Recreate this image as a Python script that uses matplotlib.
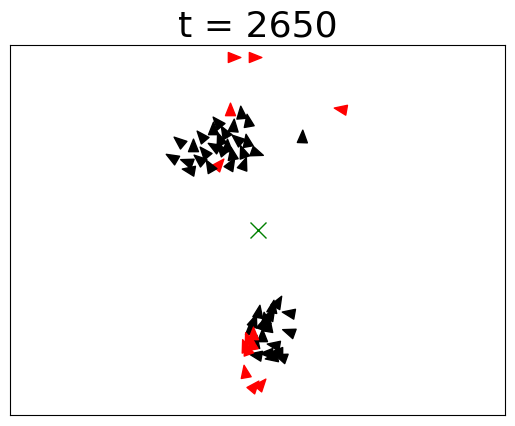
import numpy as np
import matplotlib
matplotlib.use('Agg')
import matplotlib.pyplot as plt
from matplotlib.markers import MarkerStyle
from matplotlib.path import Path
from matplotlib.transforms import Affine2D

# boid positions (x, y), heading in degrees (0 = moving right) and type
xs = [-10.3, -1.8, 34.3, -11.1, -16.0, 18.0,
      -6.7, -3.8, -16.0, -9.9, -22.4, -31.3, -26.1, -34.1, -28.1, -27.3,
      -21.2, -19.2, -15.2, -12.3, -10.3, -5.9, -1.0, -5.9, -11.1, -17.2,
      -13.1, -7.9, -4.2, -18.0, -14.3, -23.2,
      7.9, 5.9, 0.2, 13.1, -1.8, 3.0, 4.2, -3.0, 13.1, 1.8, -1.0, 7.1,
      8.3, 4.2, -0.2, 6.3, 9.9, 1.8, 5.1,
      -3.8, -5.1, -2.2, -1.8, -4.2, -5.1, -1.8, 1.0]
ys = [70.1, 70.1, 49.0, 48.2, 26.3, 37.3,
      47.0, 43.7, 43.3, 41.7, 37.7, 35.6, 33.6, 29.2, 27.5, 24.3,
      31.2, 25.5, 36.5, 33.6, 30.4, 31.2, 31.6, 26.3, 26.3, 33.6,
      39.3, 36.5, 35.6, 40.5, 32.4, 28.4,
      -29.6, -31.6, -33.6, -33.6, -37.3, -36.5, -39.3, -40.5, -41.3, -43.3,
      -45.8, -46.6, -49.4, -49.8, -50.6, -51.4, -51.4, -38.5, -34.4,
      -44.6, -47.4, -46.6, -42.5, -48.6, -57.9, -63.6, -62.8]
headings = [0, 0, 170, 90, 50, 88,
            95, 100, 130, 85, 130, 140, 90, 150, 160, 170,
            130, 120, 110, 90, 100, 110, -20, 70, 60, 150,
            120, 140, 100, 90, 130, 140,
            60, 80, 80, 170, 70, 100, 80, 90, 160, 90,
            80, 170, 180, 180, 170, 190, 160, 70, 60,
            110, 110, 100, 90, 110, 100, 50, 50]
kinds = (['red'] * 5 + ['black'] * 46 + ['red'] * 8)

target = (0.0, 0.0)

# triangle pointing along +x, centroid at the origin
arrow = Path([(1.0, 0.0), (-0.5, 0.6), (-0.5, -0.6), (1.0, 0.0)],
             [Path.MOVETO, Path.LINETO, Path.LINETO, Path.CLOSEPOLY])

fig = plt.figure(figsize=(5.15, 4.26), dpi=100)
ax = fig.add_axes([0.019, 0.026, 0.962, 0.868])

for x, y, h, c in zip(xs, ys, headings, kinds):
    m = MarkerStyle(arrow, transform=Affine2D().rotate_deg(h))
    ax.plot(x, y, marker=m, color=c, markersize=12, linestyle='none')

ax.plot(target[0], target[1], marker='x', color='green', markersize=11, linestyle='none')

ax.set_xlim(-100, 100)
ax.set_ylim(-75, 75)
ax.set_xticks([])
ax.set_yticks([])
ax.set_title('t = 2650', fontsize=26)

fig.savefig('out.png', dpi=100)
